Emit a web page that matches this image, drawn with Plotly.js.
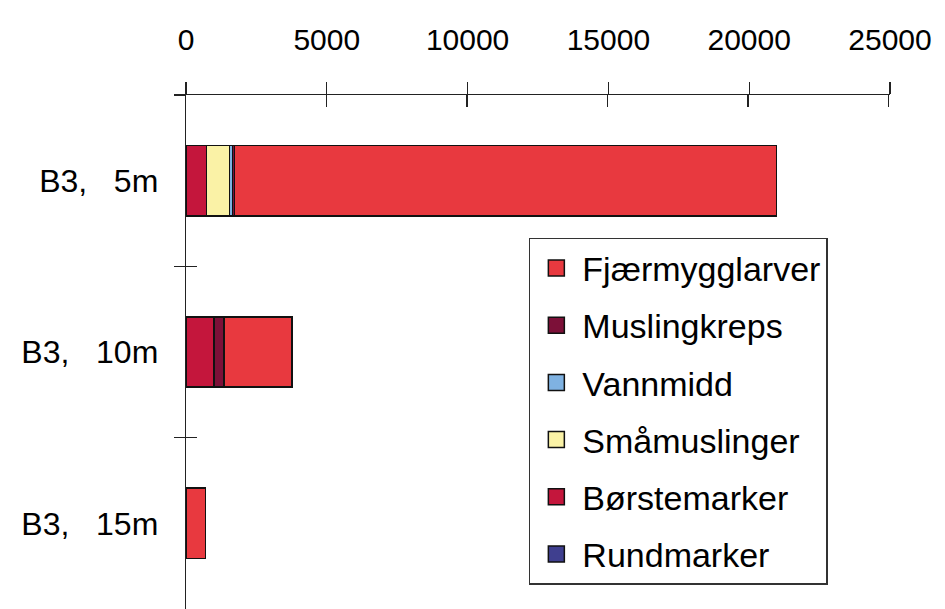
<!DOCTYPE html>
<html>
<head>
<meta charset="utf-8">
<script src="https://cdn.plot.ly/plotly-3.0.1.min.js"></script>
<style>html,body{margin:0;padding:0;background:#fff;}#chart{width:945px;height:609px;}</style>
</head>
<body>
<div id="chart"></div>
<script>
// Categories (top to bottom)
const categories = ["B3,\u00a0\u00a0\u00a05m", "B3,\u00a0\u00a0\u00a010m", "B3,\u00a0\u00a0\u00a015m"];
// Series values, in stacking order (left to right)
const rundmarker     = [0, 0, 0];
const borstemarker   = [730, 1000, 0];
const smamuslinger   = [820, 0, 0];
const vannmidd       = [100, 0, 0];
const muslingkreps   = [80, 350, 0];
const fjaermygglarver = [19240, 2420, 700];
const xTicks = [0, 5000, 10000, 15000, 20000, 25000];

const series = [
  {name: "Rundmarker", values: rundmarker, color: "#3f3f8f"},
  {name: "Børstemarker", values: borstemarker, color: "#c4163c"},
  {name: "Småmuslinger", values: smamuslinger, color: "#faf2a6"},
  {name: "Vannmidd", values: vannmidd, color: "#7fb2e2"},
  {name: "Muslingkreps", values: muslingkreps, color: "#7c1038"},
  {name: "Fjærmygglarver", values: fjaermygglarver, color: "#e8393f"}
];

const font = "Liberation Sans, Arial, sans-serif";
const traces = [];
series.forEach((s, i) => {
  traces.push({
    type: "bar", orientation: "h", name: s.name,
    x: s.values, y: categories,
    marker: {color: s.color, line: {color: "#111", width: 1.5}},
    showlegend: false, hoverinfo: "x+name"
  });
});
// legend entries (listed top to bottom in reverse stacking order)
series.slice().reverse().forEach((s, i) => {
  traces.push({
    type: "scatter", mode: "markers", name: s.name,
    x: [null], y: [categories[0]],
    marker: {symbol: "square", size: 16, color: s.color, line: {color: "#111", width: 1.5}},
    legendgroup: "g" + i, showlegend: true, hoverinfo: "skip"
  });
});
// helper trace for crossing ticks overlay axes
traces.push({type: "scatter", mode: "none", x: [null, null, null], y: categories,
  xaxis: "x2", yaxis: "y2", showlegend: false, hoverinfo: "skip"});

const layout = {
  width: 945, height: 609,
  margin: {l: 186, r: 55, t: 95, b: 0},
  paper_bgcolor: "#ffffff", plot_bgcolor: "#ffffff",
  barmode: "stack", bargap: 0.59,
  font: {family: font, color: "#000"},
  xaxis: {
    side: "top", range: [0, 25000], tickmode: "array", tickvals: xTicks,
    ticktext: xTicks.map(String),
    showline: true, linecolor: "#222", linewidth: 1.3,
    ticks: "outside", ticklen: 12, tickwidth: 1.3, tickcolor: "#222",
    showgrid: false, zeroline: false, fixedrange: true,
    tickfont: {size: 30, family: font, color: "#000"},
    ticklabelstandoff: 20
  },
  xaxis2: {
    overlaying: "x", side: "top", anchor: "y2", range: [0, 25050], tickmode: "array", tickvals: xTicks,
    showticklabels: false, showline: false, showgrid: false, zeroline: false,
    ticks: "inside", ticklen: 12, tickwidth: 1.3, tickcolor: "#222"
  },
  yaxis: {
    type: "category", categoryorder: "array", categoryarray: categories,
    range: [2.5, -0.5], tickson: "boundaries",
    showline: true, linecolor: "#222", linewidth: 1.3,
    ticks: "outside", ticklen: 11, tickwidth: 1.3, tickcolor: "#222",
    showgrid: false, zeroline: false, fixedrange: true,
    tickfont: {size: 32, family: font, color: "#000"},
    ticklabelstandoff: 20
  },
  yaxis2: {
    type: "category", categoryorder: "array", categoryarray: categories,
    overlaying: "y", anchor: "x2", range: [2.5, -0.5], tickson: "boundaries",
    showticklabels: false, showline: false, showgrid: false, zeroline: false,
    ticks: "inside", ticklen: 11, tickwidth: 1.3, tickcolor: "#222"
  },
  legend: {
    x: 0.487, y: 0.722, xanchor: "left", yanchor: "top",
    traceorder: "grouped", tracegroupgap: 10, itemwidth: 42,
    bgcolor: "#ffffff", bordercolor: "#333", borderwidth: 1.5,
    font: {size: 34, family: font, color: "#000"}
  },
  showlegend: true
};

Plotly.newPlot("chart", traces, layout, {displayModeBar: false, staticPlot: true});
</script>
</body>
</html>
